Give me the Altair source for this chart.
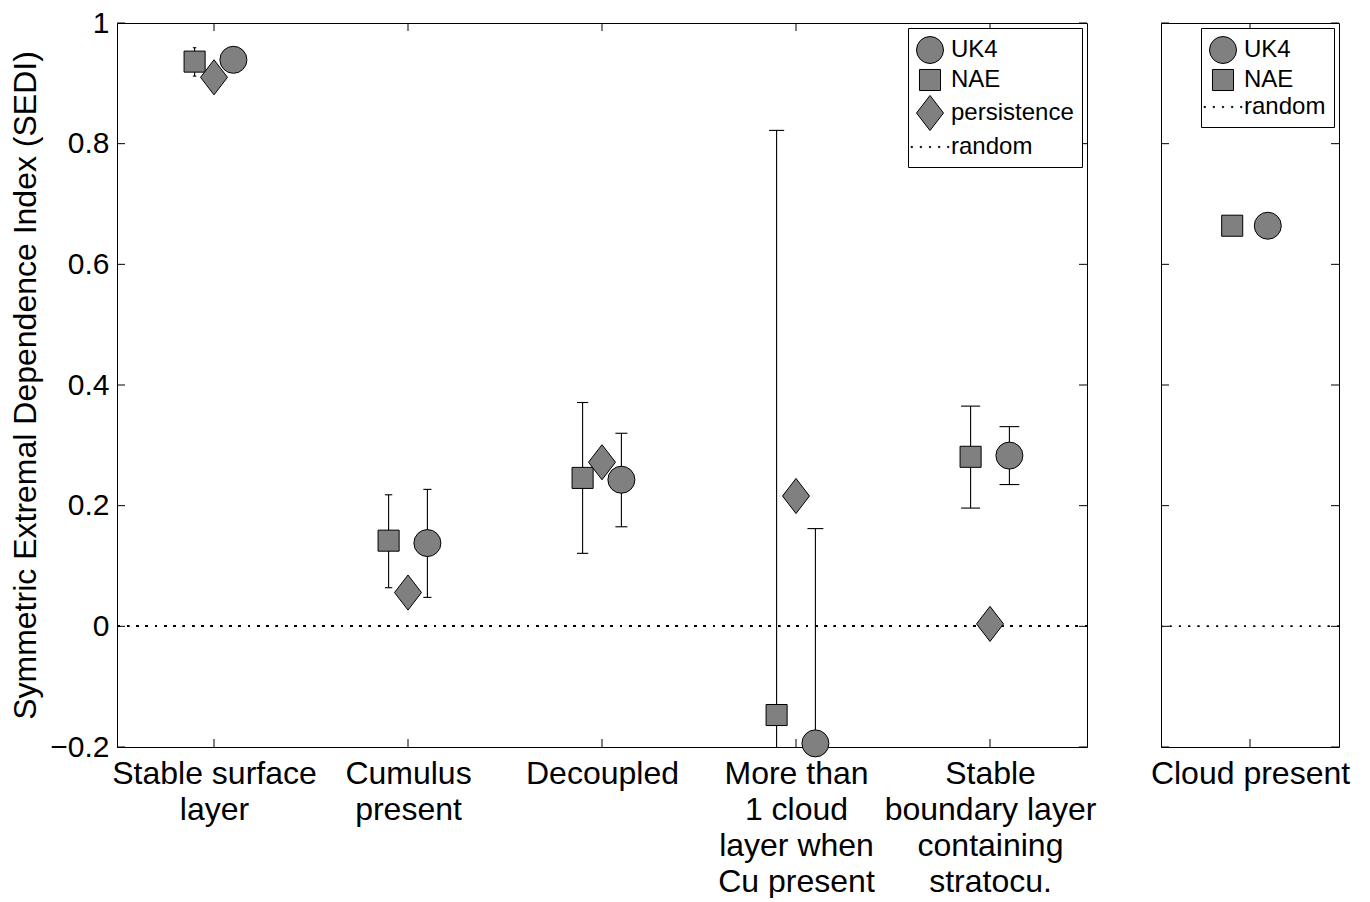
import altair as alt
import pandas as pd

# ---------------- data ----------------
label_lines = [
    ["Stable surface", "layer"],
    ["Cumulus", "present"],
    ["Decoupled"],
    ["More than", "1 cloud", "layer when", "Cu present"],
    ["Stable", "boundary layer", "containing", "stratocu."],
]
cat_index = [1, 2, 3, 4, 5]

uk4 = [0.939, 0.138, 0.243, -0.194, 0.283]
uk4_lo = [None, 0.048, 0.165, -0.55, 0.235]
uk4_hi = [None, 0.227, 0.320, 0.162, 0.331]

nae = [0.936, 0.142, 0.246, -0.147, 0.281]
nae_lo = [0.912, 0.064, 0.121, -1.12, 0.196]
nae_hi = [0.959, 0.218, 0.371, 0.822, 0.365]

persistence = [0.910, 0.056, 0.272, 0.216, 0.004]

cloud_label = "Cloud present"
cloud_uk4 = [0.664]
cloud_nae = [0.664]

y_ticks = [-0.2, 0.0, 0.2, 0.4, 0.6, 0.8, 1.0]

# ---------------- styling ----------------
FONT = "Liberation Sans"
GREY = "#808080"
W1, W2, H = 970, 178, 724
TICK = 8
offsets = {"NAE": -0.1, "persistence": 0.0, "UK4": 0.1}

CIRCLE = "circle"
SQUARE = "M-0.78,-0.78L0.78,-0.78L0.78,0.78L-0.78,0.78Z"
DIAMOND = "M-1,0L0,-1.3L1,0L0,1.3Z"


def dot(cx, h=0.045):
    return f"M{cx-h:.3f},{-h:.3f}L{cx+h:.3f},{-h:.3f}L{cx+h:.3f},{h:.3f}L{cx-h:.3f},{h:.3f}Z"


DOTS = "".join(dot(c) for c in [-1.35, -0.68, 0.0, 0.68, 1.35])

rows = []
for i, c in enumerate(cat_index):
    rows.append(dict(cat=c, series="NAE", v=nae[i], lo=nae_lo[i], hi=nae_hi[i]))
    rows.append(dict(cat=c, series="persistence", v=persistence[i], lo=None, hi=None))
    rows.append(dict(cat=c, series="UK4", v=uk4[i], lo=uk4_lo[i], hi=uk4_hi[i]))
df = pd.DataFrame(rows)
df["x"] = df["cat"] + df["series"].map(offsets)

rows2 = [dict(cat=1, series="NAE", v=cloud_nae[0]),
         dict(cat=1, series="UK4", v=cloud_uk4[0])]
df2 = pd.DataFrame(rows2)
df2["x"] = df2["cat"] + df2["series"].map(offsets)

yt = pd.DataFrame({"y": y_ticks})

ysc = alt.Scale(domain=[-0.2, 1.0], nice=False, zero=False)


def lab_expr():
    parts = []
    for c, lines in zip(cat_index, label_lines):
        arr = "[" + ",".join("'" + s + "'" for s in lines) + "]"
        parts.append(f"datum.value == {c} ? {arr} : ")
    return "".join(parts) + "''"


def legend():
    return alt.Legend(
        title=None, orient="top-right", offset=5, fillColor="white",
        strokeColor="black", padding=8, labelFontSize=24, labelFont=FONT,
        labelColor="black", symbolStrokeWidth=1, symbolSize=729,
        rowPadding=0, labelOffset=7, cornerRadius=0, symbolOpacity=1,
        gridAlign="each", labelLimit=400,
    )


def panel(data, xdom, xvals, label_expr, width, shape_dom, shape_rng, show_y):
    xsc = alt.Scale(domain=xdom, nice=False, zero=False)
    xaxis = alt.Axis(values=xvals, labelExpr=label_expr, ticks=False, domain=False,
                     grid=False, labelFontSize=32, labelLineHeight=36, labelPadding=11,
                     labelOverlap=False, labelFlush=False, labelFont=FONT,
                     labelColor="black", title=None, labelBound=False, labelLimit=0)
    if show_y:
        yaxis = alt.Axis(values=y_ticks, format=".1~f", ticks=False, domain=False,
                         grid=False, labelFontSize=30, labelFont=FONT, labelColor="black",
                         labelPadding=8, title="Symmetric Extremal Dependence Index (SEDI)",
                         titleFontSize=32, titleFont=FONT, titleFontWeight="normal",
                         titleColor="black", titlePadding=7)
    else:
        yaxis = None

    def X(f):
        return alt.X(f, scale=xsc, axis=xaxis)

    def Y(f):
        return alt.Y(f, scale=ysc, axis=yaxis)

    zero = alt.Chart(data).mark_rule(color="black", strokeDash=[2, 7.3], strokeWidth=1.5).encode(
        y=alt.datum(0, scale=ysc, axis=yaxis))

    base_t = alt.Chart(yt)
    lt = base_t.mark_rule(color="black").encode(
        y=Y("y:Q"), x=alt.value(0), x2=alt.value(TICK))
    rt = base_t.mark_rule(color="black").encode(
        y=Y("y:Q"), x=alt.value(width - TICK), x2=alt.value(width))
    xt = pd.DataFrame({"x": xvals})
    bt = alt.Chart(xt).mark_rule(color="black").encode(
        x=X("x:Q"), y=alt.value(H - TICK), y2=alt.value(H))
    tt = alt.Chart(xt).mark_rule(color="black").encode(
        x=X("x:Q"), y=alt.value(0), y2=alt.value(TICK))

    layers = [zero, lt, rt, bt, tt]

    if "lo" in data.columns:
        eb = alt.Chart(data).transform_filter("isValid(datum.lo)").transform_calculate(
            cl="datum.x - abs(datum.x)/100", cr="datum.x + abs(datum.x)/100")
        bar = eb.mark_rule(color="black", strokeWidth=1.1, clip=True).encode(
            x=X("x:Q"), y=Y("lo:Q"), y2="hi:Q")
        cap_lo = eb.mark_rule(color="black", strokeWidth=1.1, clip=True).encode(
            x=X("cl:Q"), x2="cr:Q", y=Y("lo:Q"))
        cap_hi = eb.mark_rule(color="black", strokeWidth=1.1, clip=True).encode(
            x=X("cl:Q"), x2="cr:Q", y=Y("hi:Q"))
        layers += [bar, cap_lo, cap_hi]

    n = len(shape_dom)
    fills = [("black" if s == "random" else GREY) for s in shape_dom]
    leg = legend()
    pts = alt.Chart(data).mark_point(filled=True, strokeWidth=1, size=729, opacity=1).encode(
        x=X("x:Q"),
        y=Y("v:Q"),
        shape=alt.Shape("series:N", scale=alt.Scale(domain=shape_dom, range=shape_rng),
                        legend=leg),
        fill=alt.Fill("series:N", scale=alt.Scale(domain=shape_dom, range=fills), legend=leg),
        stroke=alt.Stroke("series:N", scale=alt.Scale(domain=shape_dom, range=["black"] * n),
                          legend=leg),
    )
    layers.append(pts)
    return alt.layer(*layers).properties(width=width, height=H)


left = panel(df, [0.5, 5.5], cat_index, lab_expr(), W1,
             ["UK4", "NAE", "persistence", "random"], [CIRCLE, SQUARE, DIAMOND, DOTS], True)
right = panel(df2, [0.5, 1.5], [1], "'" + cloud_label + "'", W2,
              ["UK4", "NAE", "random"], [CIRCLE, SQUARE, DOTS], False)

chart = alt.hconcat(left, right, spacing=74).resolve_scale(
    x="independent", shape="independent", fill="independent", stroke="independent").properties(
    padding={"left": 9, "top": 7, "right": 0, "bottom": 0}, bounds="flush"
).configure(font=FONT, background="white").configure_view(stroke="black", strokeWidth=1)

chart.save("out.html", embed_options={"renderer": "svg", "actions": False})
